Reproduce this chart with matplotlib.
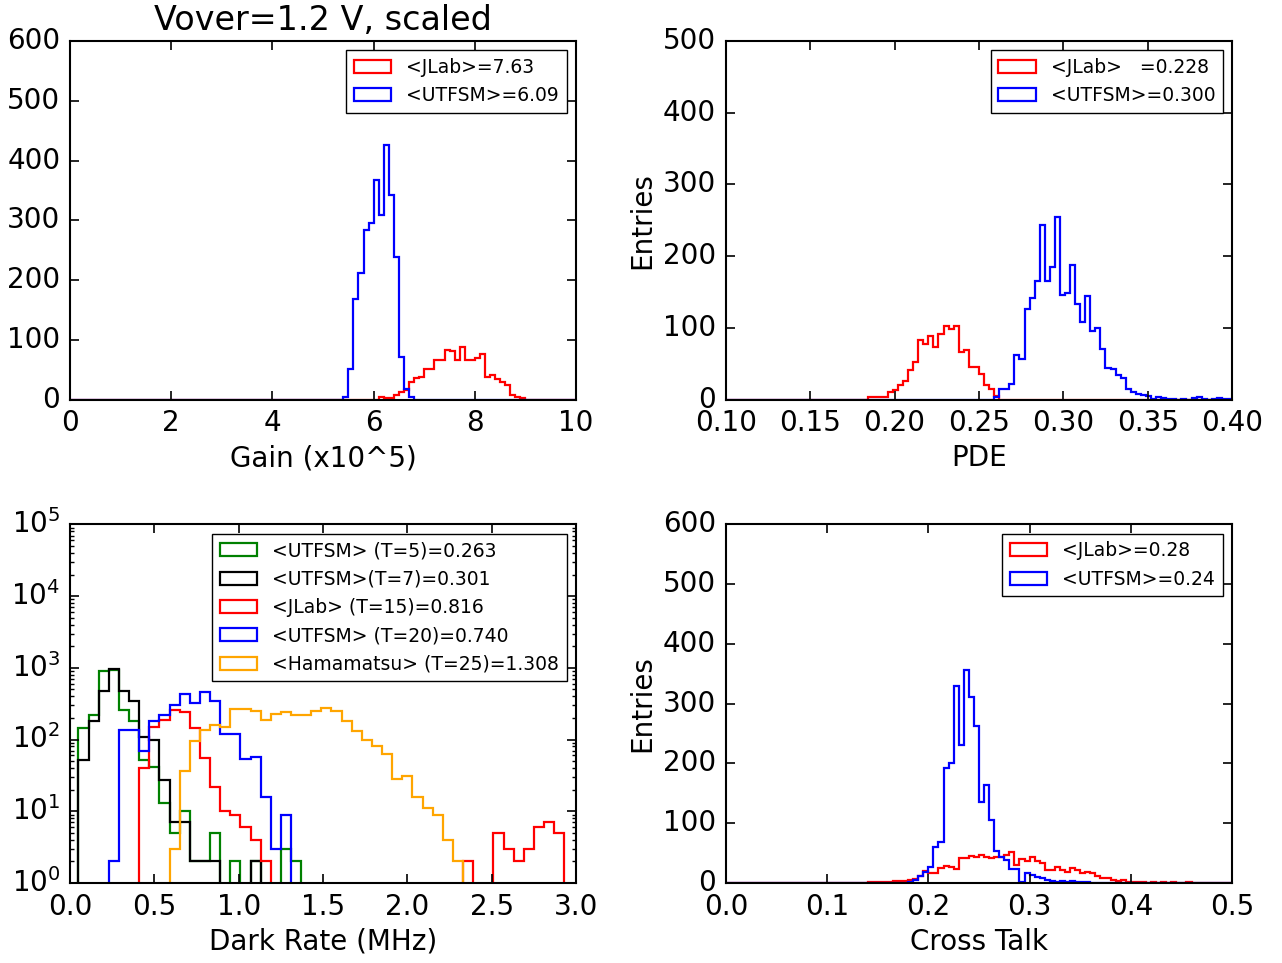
import numpy as np
import matplotlib
matplotlib.use('Agg')
import matplotlib.pyplot as plt

# --- data (counts per bin) ---
gain_edges = np.linspace(0, 10, 101)
gain_jlab_first = 61
gain_jlab = [5, 3, 3, 8, 13, 16, 30, 36, 37, 51, 51, 66, 66, 83, 81, 66, 88, 66,
             66, 70, 76, 37, 42, 35, 30, 25, 8, 5, 2]
gain_utfsm_first = 54
gain_utfsm = [5, 51, 169, 212, 283, 295, 368, 309, 426, 343, 239, 72, 18, 5]

pde_edges = np.linspace(0.1, 0.4, 101)
pde_jlab_first = 28
pde_jlab = [4, 3, 3, 4, 10, 14, 20, 26, 41, 53, 83, 78, 89, 73, 91, 102, 98, 102,
            67, 69, 45, 45, 36, 20, 15, 5]
pde_utfsm_first = 53
pde_utfsm = [3, 15, 15, 22, 62, 57, 126, 142, 166, 244, 165, 185, 254, 146, 149,
             187, 133, 108, 145, 95, 100, 71, 44, 43, 35, 30, 15, 10, 8, 7, 5,
             1, 4, 2, 1, 1, 0, 1, 0, 2, 3, 1, 0, 1, 2, 1, 1]

dark_edges = np.linspace(0.05, 2.99, 50)
dark_t5_first = 0
dark_t5 = [145, 222, 894, 940, 261, 179, 52, 42, 13, 5, 10, 2, 2, 5, 0, 2, 0, 2,
           0, 0, 3, 2]
dark_t7_first = 0
dark_t7 = [52, 179, 470, 965, 470, 340, 110, 99, 27, 7, 7, 2, 2, 2, 0, 0, 0, 2]
dark_t15_first = 6
dark_t15 = [40, 152, 189, 261, 239, 145, 55, 22, 10, 9, 6, 4, 2, 0, 0, 0, 0, 0,
            0, 0, 0, 0, 0, 0, 0, 0, 0, 0, 0, 0, 0, 0, 2, 0, 0, 5, 3, 2, 3, 6,
            7, 5]
dark_t20_first = 3
dark_t20 = [2, 137, 137, 70, 179, 222, 306, 432, 321, 461, 340, 121, 121, 53, 58,
            16, 3, 9]
dark_t25_first = 9
dark_t25 = [3, 36, 94, 137, 161, 152, 267, 267, 247, 189, 229, 239, 222, 220, 250,
            275, 247, 183, 133, 99, 80, 63, 28, 31, 16, 11, 9, 4, 2]

ct_edges = np.linspace(0, 0.5, 101)
ct_jlab_first = 28
ct_jlab = [1, 2, 1, 2, 2, 3, 3, 4, 5, 7, 11, 20, 16, 16, 25, 28, 27, 24, 41, 41,
           45, 44, 47, 44, 41, 44, 44, 47, 52, 30, 40, 37, 43, 36, 34, 22, 22,
           26, 22, 19, 25, 21, 16, 19, 16, 12, 8, 8, 5, 4, 5, 2, 2, 1, 1, 0, 1,
           0, 1, 0, 1, 0, 0, 1]
ct_utfsm_first = 36
ct_utfsm = [2, 5, 11, 19, 27, 61, 68, 192, 200, 330, 231, 357, 312, 262, 135, 164,
            106, 54, 44, 39, 23, 23, 2, 16, 14, 10, 8, 5, 3, 2, 3, 2, 3, 2, 2, 1]

# --- style ---
plt.style.use('classic')
plt.rcParams['font.family'] = ['DejaVu Sans']
plt.rcParams['mathtext.fontset'] = 'dejavusans'
plt.rcParams['figure.facecolor'] = 'white'
plt.rcParams['savefig.facecolor'] = 'white'
plt.rcParams['axes.linewidth'] = 1.5
plt.rcParams['xtick.major.size'] = 6.5
plt.rcParams['ytick.major.size'] = 6.5
plt.rcParams['xtick.minor.size'] = 3.2
plt.rcParams['ytick.minor.size'] = 3.2
plt.rcParams['xtick.major.width'] = 1.2
plt.rcParams['ytick.major.width'] = 1.2
plt.rcParams['ytick.minor.width'] = 1.0
plt.rcParams['xtick.major.pad'] = 7
plt.rcParams['ytick.major.pad'] = 7

FS = 20
LFS = 13.5


def step_hist(ax, edges, first, counts, color, label):
    w = np.zeros(len(edges) - 1)
    w[first:first + len(counts)] = counts
    centers = 0.5 * (edges[:-1] + edges[1:])
    ax.hist(centers, bins=edges, weights=w, histtype='step', color=color,
            linewidth=1.6, label=label)


def finish(ax, xlabel, ylabel=None):
    ax.set_xlabel(xlabel, fontsize=FS)
    if ylabel:
        ax.set_ylabel(ylabel, fontsize=FS)
    ax.tick_params(labelsize=FS)
    ax.legend(loc='upper right', fontsize=LFS, handlelength=2.0,
              borderpad=0.4, labelspacing=0.5, fancybox=False)


fig = plt.figure(figsize=(12.82, 9.63), dpi=100)
fig.subplots_adjust(left=0.0546, right=0.961, bottom=0.0831, top=0.9574,
                    wspace=0.296, hspace=0.348)
ax1 = fig.add_subplot(2, 2, 1)
ax2 = fig.add_subplot(2, 2, 2)
ax3 = fig.add_subplot(2, 2, 3)
ax4 = fig.add_subplot(2, 2, 4)

# Gain
step_hist(ax1, gain_edges, gain_jlab_first, gain_jlab, 'r', '<JLab>=7.63')
step_hist(ax1, gain_edges, gain_utfsm_first, gain_utfsm, 'b', '<UTFSM>=6.09')
ax1.set_xlim(0, 10)
ax1.set_ylim(0, 600)
ax1.set_xticks(np.arange(0, 11, 2))
ax1.set_yticks(np.arange(0, 601, 100))
ax1.set_title('Vover=1.2 V, scaled', fontsize=24, pad=8)
finish(ax1, 'Gain (x10^5)')

# PDE
step_hist(ax2, pde_edges, pde_jlab_first, pde_jlab, 'r', '<JLab>   =0.228')
step_hist(ax2, pde_edges, pde_utfsm_first, pde_utfsm, 'b', '<UTFSM>=0.300')
ax2.set_xlim(0.1, 0.4)
ax2.set_ylim(0, 500)
ax2.set_xticks(np.arange(0.10, 0.401, 0.05))
ax2.set_xticklabels(['%.2f' % v for v in np.arange(0.10, 0.401, 0.05)])
ax2.set_yticks(np.arange(0, 501, 100))
finish(ax2, 'PDE', 'Entries')

# Dark rate
ax3.set_yscale('log')
step_hist(ax3, dark_edges, dark_t5_first, dark_t5, 'g', '<UTFSM> (T=5)=0.263')
step_hist(ax3, dark_edges, dark_t7_first, dark_t7, 'k', '<UTFSM>(T=7)=0.301')
step_hist(ax3, dark_edges, dark_t15_first, dark_t15, 'r', '<JLab> (T=15)=0.816')
step_hist(ax3, dark_edges, dark_t20_first, dark_t20, 'b', '<UTFSM> (T=20)=0.740')
step_hist(ax3, dark_edges, dark_t25_first, dark_t25, 'orange',
          '<Hamamatsu> (T=25)=1.308')
ax3.set_xlim(0, 3)
ax3.set_ylim(1, 1e5)
ax3.set_xticks(np.arange(0, 3.01, 0.5))
finish(ax3, 'Dark Rate (MHz)')

# Cross talk
step_hist(ax4, ct_edges, ct_jlab_first, ct_jlab, 'r', '<JLab>=0.28')
step_hist(ax4, ct_edges, ct_utfsm_first, ct_utfsm, 'b', '<UTFSM>=0.24')
ax4.set_xlim(0, 0.5)
ax4.set_ylim(0, 600)
ax4.set_xticks(np.arange(0, 0.51, 0.1))
ax4.set_yticks(np.arange(0, 601, 100))
finish(ax4, 'Cross Talk', 'Entries')

fig.savefig('out.png', dpi=100)
